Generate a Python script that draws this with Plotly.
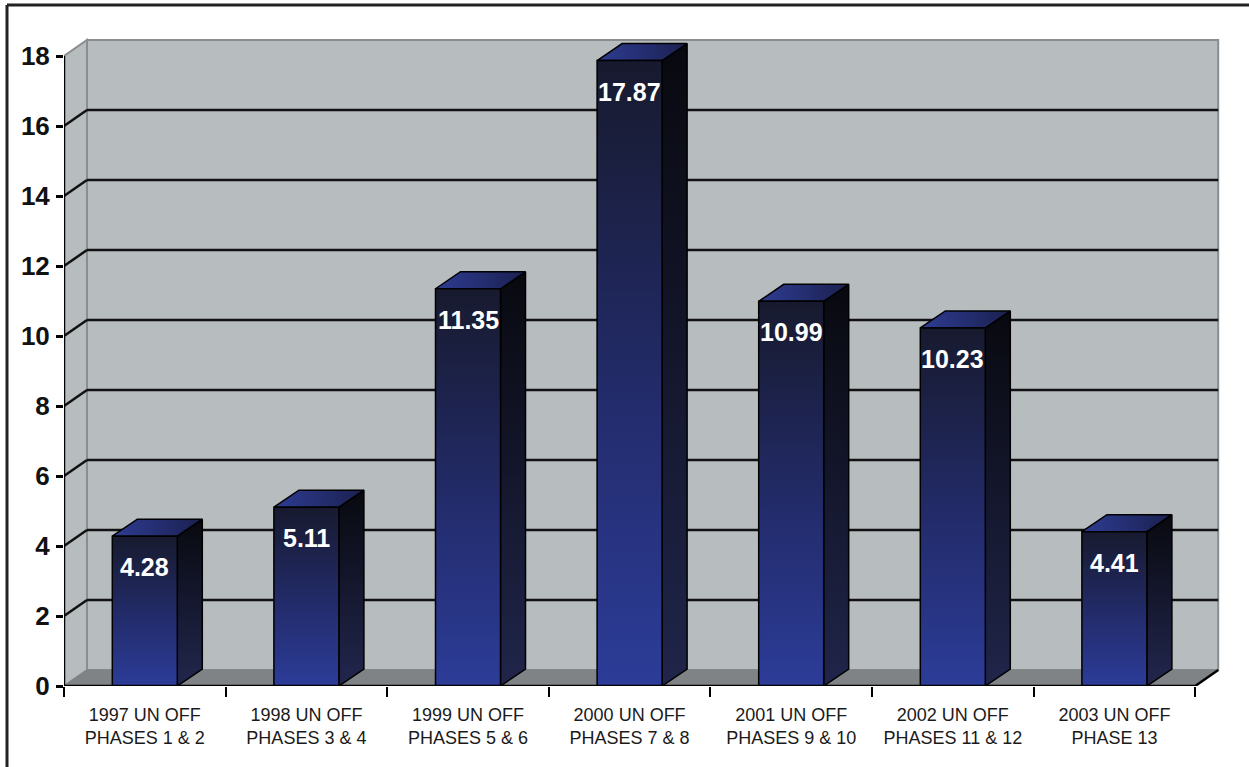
import plotly.graph_objects as go

# ---------------- data ----------------
categories = [
    "1997 UN OFF<br>PHASES 1 & 2",
    "1998 UN OFF<br>PHASES 3 & 4",
    "1999 UN OFF<br>PHASES 5 & 6",
    "2000 UN OFF<br>PHASES 7 & 8",
    "2001 UN OFF<br>PHASES 9 & 10",
    "2002 UN OFF<br>PHASES 11 & 12",
    "2003 UN OFF<br>PHASE 13",
]
values = [4.28, 5.11, 11.35, 17.87, 10.99, 10.23, 4.41]
y_ticks = [0, 2, 4, 6, 8, 10, 12, 14, 16, 18]

# ---------------- geometry (pixels -> data units through the axis scales) ----------------
W, H = 1249, 767
L, R, T, B = 64, 24, 30, 81
plot_w, plot_h = W - L - R, H - T - B
PX_PER_CAT = 161.6
PX_PER_Y = 35.0
n = len(values)
x_lo = -0.5
x_hi = n - 0.5
x_max = x_lo + plot_w / PX_PER_CAT
y_top = max(y_ticks)
y_max = plot_h / PX_PER_Y

wdx, wdy = 23 / PX_PER_CAT, 16 / PX_PER_Y      # wall depth
bdx, bdy = 25 / PX_PER_CAT, 17 / PX_PER_Y      # bar depth
hw = 32.5 / PX_PER_CAT                          # bar half width

WALL = "#b7bcbf"
WALL_EDGE = "#8a8e91"
FLOOR = "#7f8386"
FONT = "Liberation Sans, Arial, sans-serif"

shapes = []
# back wall
shapes.append(dict(type="path", xref="x", yref="y", layer="below",
                   path=f"M{x_lo+wdx},{wdy} L{x_hi+wdx},{wdy} L{x_hi+wdx},{y_top+wdy} L{x_lo+wdx},{y_top+wdy} Z",
                   fillcolor=WALL, line=dict(color=WALL_EDGE, width=2)))
# left wall
shapes.append(dict(type="path", xref="x", yref="y", layer="below",
                   path=f"M{x_lo},0 L{x_lo+wdx},{wdy} L{x_lo+wdx},{y_top+wdy} L{x_lo},{y_top} Z",
                   fillcolor=WALL, line=dict(color=WALL_EDGE, width=2)))
# floor
shapes.append(dict(type="path", xref="x", yref="y", layer="below",
                   path=f"M{x_lo},0 L{x_hi},0 L{x_hi+wdx},{wdy} L{x_lo+wdx},{wdy} Z",
                   fillcolor=FLOOR, line=dict(color=FLOOR, width=1)))
# gridlines
for v in y_ticks:
    if v == 0 or v == y_top:
        continue
    shapes.append(dict(type="line", xref="x", yref="y", layer="below",
                       x0=x_lo + wdx, x1=x_hi + wdx, y0=v + wdy, y1=v + wdy,
                       line=dict(color="#111111", width=2.5)))
    shapes.append(dict(type="line", xref="x", yref="y", layer="below",
                       x0=x_lo, x1=x_lo + wdx, y0=v, y1=v + wdy,
                       line=dict(color="#111111", width=2.5)))
# front axes
shapes.append(dict(type="line", xref="x", yref="y", x0=x_lo, x1=x_lo, y0=0, y1=y_top,
                   line=dict(color="black", width=2.5)))
shapes.append(dict(type="line", xref="x", yref="y", x0=x_lo, x1=x_hi, y0=0, y1=0,
                   line=dict(color="black", width=2.5)))
shapes.append(dict(type="line", xref="x", yref="y", x0=x_hi, x1=x_hi + wdx, y0=0, y1=wdy,
                   line=dict(color="black", width=2.5)))
# frame (top and left border)
def px_to_paper_x(px):
    return (px - L) / plot_w

def px_to_paper_y(py):
    return (H - B - py) / plot_h

shapes.append(dict(type="line", xref="paper", yref="paper",
                   x0=px_to_paper_x(7), x1=px_to_paper_x(W + 2), y0=px_to_paper_y(5), y1=px_to_paper_y(5),
                   line=dict(color="#222222", width=3)))
shapes.append(dict(type="line", xref="paper", yref="paper",
                   x0=px_to_paper_x(7), x1=px_to_paper_x(7), y0=px_to_paper_y(5), y1=px_to_paper_y(H + 2),
                   line=dict(color="#222222", width=3)))

fig = go.Figure()

FRONT_SCALE = [[0, "#2c3c98"], [0.45, "#232c6c"], [1, "#171a2e"]]
SIDE_SCALE = [[0, "#1f2448"], [1, "#08090f"]]
TOP_SCALE = [[0, "#2e3c92"], [1, "#1b2050"]]

annotations = []
for i, v in enumerate(values):
    x0, x1 = i - hw, i + hw
    # side face
    fig.add_trace(go.Scatter(
        x=[x1, x1 + bdx, x1 + bdx, x1, x1], y=[0, bdy, v + bdy, v, 0],
        mode="lines", fill="toself",
        fillgradient=dict(type="vertical", colorscale=SIDE_SCALE, start=bdy, stop=v + bdy),
        line=dict(color="black", width=1.5), hoverinfo="skip", showlegend=False))
    # top face
    fig.add_trace(go.Scatter(
        x=[x0, x1, x1 + bdx, x0 + bdx, x0], y=[v, v, v + bdy, v + bdy, v],
        mode="lines", fill="toself",
        fillgradient=dict(type="horizontal", colorscale=TOP_SCALE, start=x0, stop=x1 + bdx),
        line=dict(color="black", width=1.5), hoverinfo="skip", showlegend=False))
    # front face
    fig.add_trace(go.Scatter(
        x=[x0, x1, x1, x0, x0], y=[0, 0, v, v, 0],
        mode="lines", fill="toself",
        fillgradient=dict(type="vertical", colorscale=FRONT_SCALE, start=0, stop=v),
        line=dict(color="black", width=1.5),
        name=categories[i].replace("<br>", " "), text=f"{v:.2f}", hoverinfo="name+text",
        showlegend=False))
    annotations.append(dict(x=i, y=v, xref="x", yref="y", text=f"<b>{v:.2f}</b>",
                            showarrow=False, yshift=-31,
                            font=dict(family=FONT, size=25, color="white")))

fig.update_layout(
    width=W, height=H,
    margin=dict(l=L, r=R, t=T, b=B),
    paper_bgcolor="white", plot_bgcolor="white",
    showlegend=False,
    shapes=shapes, annotations=annotations,
    xaxis=dict(range=[x_lo, x_max], showgrid=False, zeroline=False, showline=False,
               tickmode="array", tickvals=list(range(n)), ticktext=categories,
               ticks="", ticklabelstandoff=16,
               minor=dict(tickmode="array", tickvals=[k - 0.5 for k in range(n + 1)],
                          ticks="outside", ticklen=10, tickwidth=2, tickcolor="black"),
               tickfont=dict(family=FONT, size=18, color="#1a1a1a")),
    yaxis=dict(range=[0, y_max], showgrid=False, zeroline=False, showline=False,
               tickmode="array", tickvals=y_ticks, ticks="outside", ticklen=7, tickwidth=2.5,
               tickcolor="black", ticklabelstandoff=1,
               tickfont=dict(family=FONT, size=26, color="#111111", weight="bold")),
)

fig.write_html("out.html", config={"displayModeBar": False},
               post_script="document.body.style.margin='0';")
